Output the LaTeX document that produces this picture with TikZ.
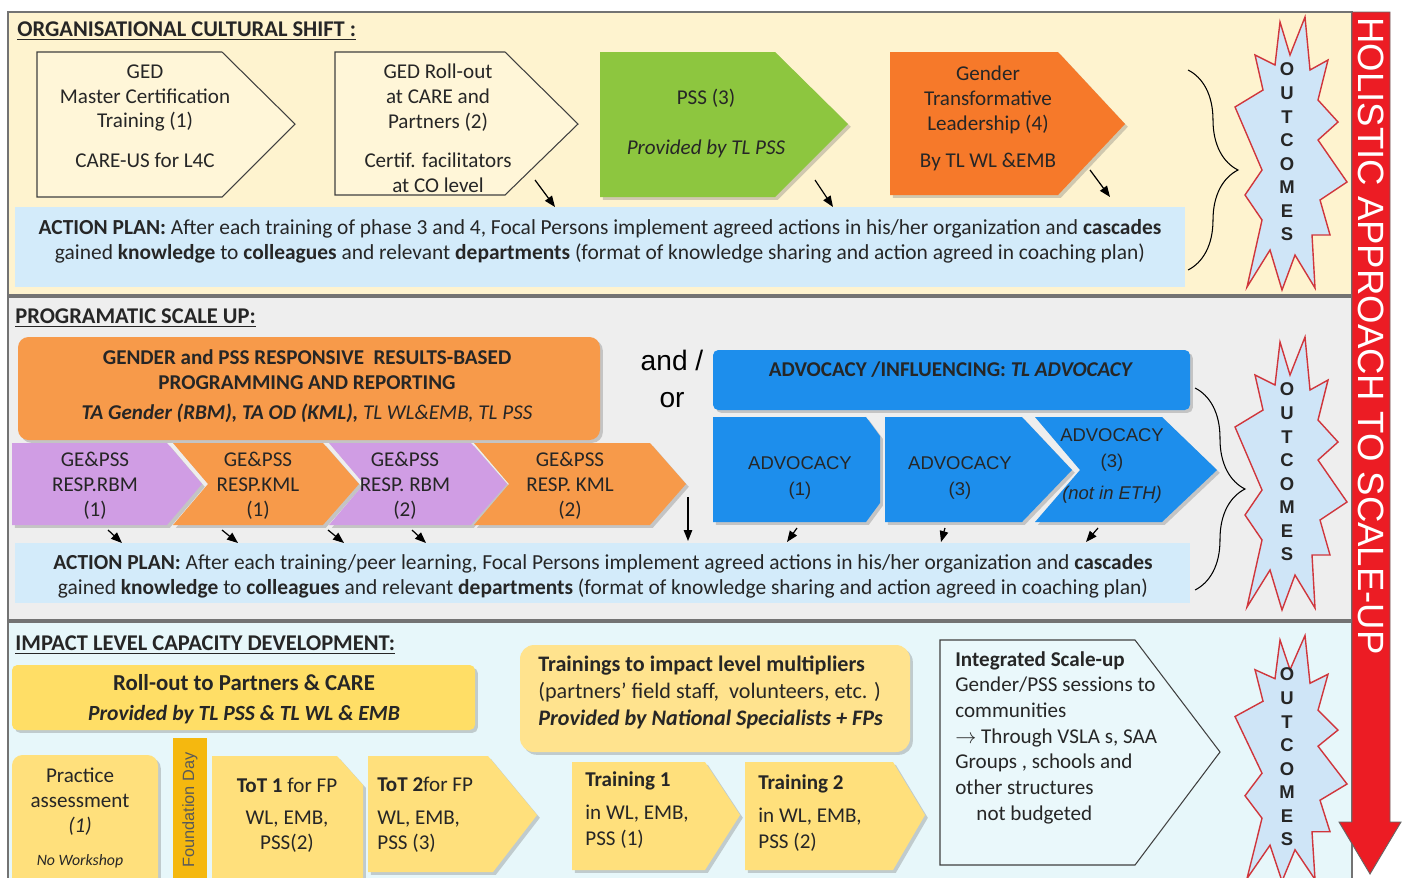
\documentclass[tikz,border=0pt]{standalone}
\usepackage{fontspec}
\setmainfont{Carlito}
\newfontfamily\arialf{Liberation Sans}
\usetikzlibrary{arrows.meta,calc,positioning,decorations.pathreplacing,shadows}

\definecolor{topbg}{HTML}{FEF3CF}
\definecolor{boxcream}{HTML}{FFF6D8}
\definecolor{pssgreen}{HTML}{8DC63F}
\definecolor{gtlorange}{HTML}{F6792A}
\definecolor{apblue}{HTML}{D3EBFA}
\definecolor{midbg}{HTML}{EEEEEE}
\definecolor{rbmorange}{HTML}{F79A4A}
\definecolor{chpurple}{HTML}{D09DE4}
\definecolor{advblue}{HTML}{1D8EEC}
\definecolor{botbg}{HTML}{E7F7FA}
\definecolor{rollgold}{HTML}{FFDE66}
\definecolor{trainyel}{HTML}{FFE38E}
\definecolor{totyel}{HTML}{FFE07C}
\definecolor{fdgold}{HTML}{F5B80F}
\definecolor{intcyan}{HTML}{EAF8FB}
\definecolor{burstblue}{HTML}{CFE5F7}
\definecolor{burstred}{HTML}{D0363C}
\definecolor{holred}{HTML}{EC1C24}

\tikzset{
  band/.style  = {draw=black!55, line width=0.8pt},
  otl/.style   = {draw=black!75, line width=0.6pt},
  shp/.style   = {drop shadow={shadow xshift=1.6pt, shadow yshift=-1.6pt,
                  opacity=0.3, fill=black!60}},
  txt/.style   = {align=center, inner sep=0pt, text=black!85,
                  font=\fontsize{12}{14.2}\selectfont},
  ltxt/.style  = {align=left, inner sep=0pt, text=black!85,
                  font=\fontsize{12}{14.6}\selectfont},
  aptxt/.style = {align=center, inner sep=0pt, text=black!85,
                  font=\fontsize{12.2}{14.2}\selectfont},
  ttl/.style   = {anchor=west, inner sep=0pt, text=black!85,
                  font=\fontsize{12.8}{14}\selectfont\bfseries},
  advtxt/.style= {align=center, inner sep=0pt, text=black!85,
                  font=\arialf\fontsize{10.5}{15.2}\selectfont},
  arr/.style   = {-{Triangle[length=2.2mm,width=1.7mm]}, line width=0.7pt},
  brc/.style   = {decorate, decoration={brace, amplitude=1cm}, line width=0.6pt},
  burst/.style = {draw=burstred, fill=burstblue, line width=0.8pt},
  outc/.style  = {align=center, inner sep=0pt, text=black!85,
                  font=\arialf\bfseries\fontsize{10.5}{13.4}\selectfont},
}

% outcomes starburst: name, centre y, vertical scale
\newcommand{\burst}[3]{%
  \draw[burst, shift={(1290,#2)}, yscale=#3]
    (15,-135) -- (20,-82) -- (38,-92) -- (28,-52) -- (48,-30) -- (28,-12)
    -- (57,30) -- (30,48) -- (40,83) -- (22,83) -- (25,136) -- (5,103)
    -- (-8,138) -- (-20,98) -- (-43,135) -- (-28,68) -- (-45,43) -- (-28,18)
    -- (-55,-45) -- (-27,-62) -- (-35,-97) -- (-15,-87) -- (-10,-130)
    -- (0,-97) -- cycle;
  \node[outc] (#1) at (1287,#2) {O\\U\\T\\C\\O\\M\\E\\S};}

\begin{document}
\begin{tikzpicture}[x=0.02cm,y=-0.02cm]
  \useasboundingbox (0,0) rectangle (1405,877);
  \fill[white] (0,0) rectangle (1405,877);

  % section bands
  \draw[band, fill=topbg] (8,12) rectangle (1352,295);
  \draw[band, fill=midbg] (8,297) rectangle (1352,620);
  \draw[band, fill=botbg] (8,622) rectangle (1352,900);

  % ---------- organisational cultural shift
  \node[ttl] (h1) at (17,31) {\underline{ORGANISATIONAL CULTURAL SHIFT :}};

  \draw[otl, fill=boxcream] (37,52) -- (222,52) -- (295,124) -- (222,197) -- (37,197) -- cycle;
  \node[txt] (ged1) at (145,98) {GED\\Master Certification\\Training (1)};
  \node[txt] (ged1b) at (145,160) {CARE-US for L4C};

  \draw[otl, fill=boxcream] (335,52) -- (505,52) -- (578,124) -- (505,195) -- (335,195) -- cycle;
  \node[txt] (ged2) at (438,98) {GED Roll-out\\at CARE and\\Partners (2)};
  \node[txt] (ged2b) at (438,173) {Certif. facilitators\\at CO level};

  \path[shp, fill=pssgreen] (600,52) -- (775,52) -- (848,124) -- (775,197) -- (600,197) -- cycle;
  \node[txt] (pss3) at (706,98) {PSS (3)};
  \node[txt, font=\fontsize{12}{14.2}\selectfont\itshape] (pss3b) at (706,149) {Provided by TL PSS};

  \path[shp, fill=gtlorange] (890,52) -- (1058,52) -- (1125,124) -- (1058,195) -- (890,195) -- cycle;
  \node[txt] (gtl4) at (988,100) {Gender\\Transformative\\Leadership (4)};
  \node[txt] (gtl4b) at (988,162) {By TL WL \&EMB};

  \fill[apblue] (15,207) rectangle (1185,287);
  \node[aptxt] (ap1) at (600,241) {\textbf{ACTION PLAN:} After each training of phase 3 and 4, Focal Persons implement agreed actions in his/her organization and \textbf{cascades}\\
    gained \textbf{knowledge} to \textbf{colleagues} and relevant \textbf{departments} (format of knowledge sharing and action agreed in coaching plan)};

  \foreach \n/\xa/\ya/\xb/\yb in {1/535/180/555/207, 2/815/180/833/207, 3/1090/170/1110/197}{
    \coordinate (s\n) at (\xa,\ya);
    \coordinate (e\n) at (\xb,\yb);
    \draw[arr] (s\n) -- (e\n);
  }

  \draw[brc] (1188,70) -- (1188,270);
  \burst{out1}{152}{1}

  % ---------- programmatic scale up
  \node[ttl] (h2) at (15,318) {\underline{PROGRAMATIC SCALE UP:}};

  \path[shp, fill=rbmorange, rounded corners=6pt] (18,337) rectangle (600,440);
  \node[txt, font=\fontsize{12}{14.2}\selectfont\bfseries] (rbm) at (307,370)
    {GENDER and PSS RESPONSIVE\ \ RESULTS-BASED\\PROGRAMMING AND REPORTING};
  \node[txt] (rbmb) at (307,413) {\textbf{\textit{TA Gender (RBM), TA OD (KML),}} \textit{TL WL\&EMB, TL PSS}};

  \path[shp, fill=chpurple] (12,443) -- (167,443) -- (202,484) -- (167,525) -- (12,525) -- cycle;
  \path[shp, fill=rbmorange] (173,443) -- (323,443) -- (359,484) -- (323,525) -- (173,525) -- (208,484) -- cycle;
  \path[shp, fill=chpurple] (329,443) -- (471,443) -- (507,484) -- (471,525) -- (329,525) -- (364,484) -- cycle;
  \path[shp, fill=rbmorange] (474,443) -- (650,443) -- (686,484) -- (650,525) -- (474,525) -- (509,484) -- cycle;
  \node[txt] (ch1) at (95,486) {GE\&PSS\\RESP.RBM\\(1)};
  \node[txt] (ch2) at (258,486) {GE\&PSS\\RESP.KML\\(1)};
  \node[txt] (ch3) at (405,486) {GE\&PSS\\RESP. RBM\\(2)};
  \node[txt] (ch4) at (570,486) {GE\&PSS\\RESP. KML\\(2)};

  \node[align=center, inner sep=0pt, font=\arialf\fontsize{16}{21}\selectfont] (andor) at (672,379) {and /\\or};

  \path[shp, fill=advblue, rounded corners=3pt] (713,350) rectangle (1190,410);
  \node[txt, font=\fontsize{12}{14.2}\selectfont\bfseries] (adv) at (951,370) {ADVOCACY /INFLUENCING: \textit{TL ADVOCACY}};

  \path[shp, fill=advblue] (713,417) -- (866,417) -- (880,436) -- (880,503) -- (866,522) -- (713,522) -- cycle;
  \path[shp, fill=advblue] (1035,417) -- (1162,417) -- (1217,470) -- (1162,522) -- (1035,522) -- (1080,470) -- cycle;
  \path[shp, fill=advblue] (885,417) -- (1022,417) -- (1072,470) -- (1022,522) -- (885,522) -- cycle;
  \node[advtxt] (adv1) at (800,478) {ADVOCACY\\(1)};
  \node[advtxt] (adv2) at (960,478) {ADVOCACY\\(3)};
  \node[advtxt] (adv3) at (1112,466) {ADVOCACY\\(3)\\[3pt]\textit{(not in ETH)}};

  \foreach \n/\xa/\ya/\xb/\yb in {4/108/530/122/543, 5/222/530/238/543, 6/328/530/344/543,
      7/412/530/426/543, 8/688/497/688/541, 9/797/528/787/542, 10/945/528/941/542, 11/1098/528/1086/542}{
    \coordinate (s\n) at (\xa,\ya);
    \coordinate (e\n) at (\xb,\yb);
    \draw[arr] (s\n) -- (e\n);
  }

  \fill[apblue] (15,543) rectangle (1190,603);
  \node[aptxt] (ap2) at (603,576) {\textbf{ACTION PLAN:} After each training/peer learning, Focal Persons implement agreed actions in his/her organization and \textbf{cascades}\\
    gained \textbf{knowledge} to \textbf{colleagues} and relevant \textbf{departments} (format of knowledge sharing and action agreed in coaching plan)};

  \draw[brc] (1195,388) -- (1195,590);
  \burst{out2}{472}{1}

  % ---------- impact level capacity development
  \node[ttl] (h3) at (15,645) {\underline{IMPACT LEVEL CAPACITY DEVELOPMENT:}};

  \path[shp, fill=rollgold, rounded corners=3pt] (12,665) rectangle (475,730);
  \node[txt, font=\fontsize{13}{14.2}\selectfont\bfseries] (roll) at (244,683) {Roll-out to Partners \& CARE};
  \node[txt, font=\fontsize{12.3}{14.2}\selectfont] (rollb) at (244,715) {\textbf{\textit{Provided by TL PSS \& TL WL \& EMB}}};

  \path[shp, fill=trainyel, rounded corners=8pt] (520,645) rectangle (910,752);
  \node[ltxt, anchor=west, font=\fontsize{12.6}{15.4}\selectfont] (multi) at (538,692)
    {\textbf{Trainings to impact level multipliers}\\(partners' field staff,\ \ volunteers, etc. )\\\textbf{\textit{Provided by National Specialists + FPs}}};

  \path[shp, fill=totyel, rounded corners=6pt] (12,755) rectangle (158,900);
  \node[txt] (prac) at (80,802) {Practice\\assessment\\\textit{(1)}};
  \node[txt, font=\fontsize{9}{11}\selectfont\itshape] (pracb) at (80,861) {No Workshop};

  \fill[fdgold] (173,738) rectangle (207,900);
  \node[rotate=90, inner sep=0pt, text=black!65, font=\arialf\fontsize{9.3}{11}\selectfont] (fday) at (190,810) {Foundation Day};

  \path[shp, fill=totyel] (212,756) -- (337,756) -- (363,785) -- (363,900) -- (212,900) -- cycle;
  \path[shp, fill=totyel] (368,756) -- (488,756) -- (537,815) -- (493,872) -- (368,872) -- cycle;
  \node[txt] (tot1) at (287,815) {\textbf{ToT\ 1}\ for FP\\[4pt]WL, EMB,\\PSS(2)};
  \node[ltxt, anchor=west] (tot2) at (377,815) {\textbf{ToT 2}for FP\\[4pt]WL, EMB,\\PSS (3)};

  \path[shp, fill=totyel] (572,762) -- (705,762) -- (740,815) -- (705,870) -- (572,870) -- cycle;
  \path[shp, fill=totyel] (745,762) -- (893,762) -- (925,815) -- (893,870) -- (745,870) -- cycle;
  \node[ltxt, anchor=west] (tr1) at (585,810) {\textbf{Training 1}\\[4pt]in WL, EMB,\\PSS (1)};
  \node[ltxt, anchor=west] (tr2) at (758,813) {\textbf{Training\ 2}\\[4pt]in WL, EMB,\\PSS (2)};

  \draw[otl, fill=intcyan] (940,640) -- (1135,640) -- (1220,752) -- (1135,865) -- (940,865) -- cycle;
  \node[ltxt, anchor=north west] (integ) at (955,651)
    {\textbf{Integrated Scale-up}\\Gender/PSS sessions to\\communities\\$\rightarrow$ Through VSLA s, SAA\\Groups , schools and\\other structures\\\quad not budgeted};

  \burst{out3}{757}{0.9}

  % ---------- holistic arrow
  \draw[fill=holred, draw=black!60, line width=0.5pt] (1352,12) -- (1390,12) -- (1390,822) -- (1401,822)
    -- (1370,874) -- (1339,822) -- (1352,822) -- cycle;
  \node[rotate=-90, inner sep=0pt, text=white, font=\arialf\fontsize{20.8}{22}\selectfont] (holi) at (1371,336)
    {HOLISTIC APPROACH TO SCALE-UP};
\end{tikzpicture}
\end{document}
